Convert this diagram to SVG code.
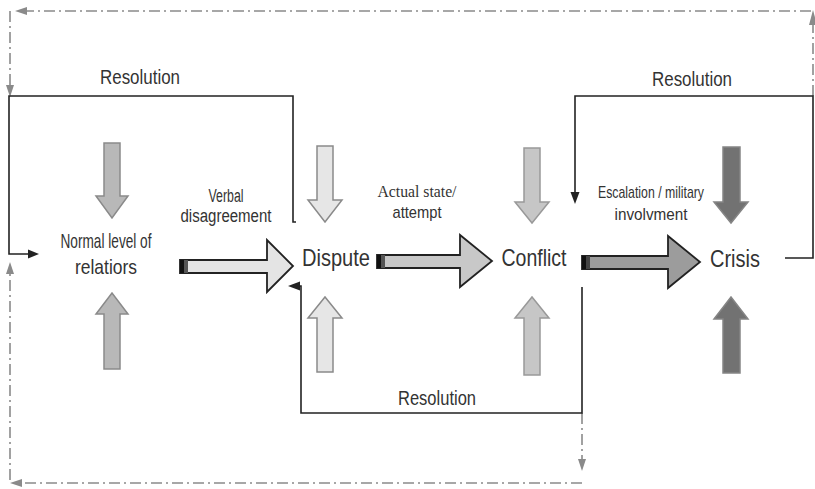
<svg xmlns="http://www.w3.org/2000/svg" width="815" height="489" viewBox="0 0 815 489">
<style>
.t{font-family:"Liberation Sans",Arial,sans-serif;fill:#333}
.ts{font-family:"Liberation Serif","Times New Roman",serif;fill:#333}
.ln{fill:none;stroke:#222;stroke-width:1.6}
.dd{fill:none;stroke:#8a8a8a;stroke-width:1.6;stroke-dasharray:11 4 2 4}
.ah{fill:#222}
.dh{fill:#8a8a8a}
.ha{stroke:#222;stroke-width:1.8;stroke-linejoin:miter}
.v1{fill:#b8b8b8;stroke:#8a8a8a;stroke-width:1.5}
.v2{fill:#e6e6e6;stroke:#8a8a8a;stroke-width:1.5}
.v3{fill:#c6c6c6;stroke:#999;stroke-width:1.5}
.v4{fill:#727272;stroke:#858585;stroke-width:1.5}
</style>
<rect width="815" height="489" fill="#fff"/>

<g id="connectors">
  <!-- dash-dot outer loops -->
  <path class="dd" d="M813,96 V24"/>
  <polygon class="dh" points="813,10 809,25 817,25"/>
  <path class="dd" d="M811,11 H26"/>
  <polygon class="dh" points="15,11 27,7 27,15"/>
  <path class="dd" d="M10,11 V85"/>
  <polygon class="dh" points="10,97 6,85 14,85"/>
  <path class="dd" d="M582,413 V459"/>
  <polygon class="dh" points="582,471 578,459 586,459"/>
  <path class="dd" d="M582,483 H21"/>
  <polygon class="dh" points="10,483 22,479 22,487"/>
  <path class="dd" d="M10,480 V273"/>
  <polygon class="dh" points="10,262 6,274 14,274"/>

  <!-- solid resolution loops -->
  <path class="ln" d="M296,222 H293 V96 H9 V254 H29"/>
  <polygon class="ah" points="39,254 28,249.5 28,258.5"/>
  <path class="ln" d="M785,258 H813 V96 H575 V192"/>
  <polygon class="ah" points="575,204 570.5,192 579.5,192"/>
  <path class="ln" d="M582,287 V413 H301 V286 H299"/>
  <polygon class="ah" points="288,286 300,281.5 300,290.5"/>

  <!-- horizontal block arrows -->
  <path class="ha" fill="#e4e4e4" d="M180,260 H267 V240 L293,266 L267,292 V273 H180 Z"/>
  <rect x="180" y="260" width="4" height="13" fill="#111"/>
  <rect x="184" y="260" width="4" height="13" fill="#555"/>
  <path class="ha" fill="#c8c8c8" d="M377,255 H460 V235 L492,261 L460,287 V268 H377 Z"/>
  <rect x="377" y="255" width="4" height="13" fill="#111"/>
  <rect x="381" y="255" width="4" height="13" fill="#555"/>
  <path class="ha" fill="#9c9c9c" d="M582,256 H668 V236 L700,262 L668,288 V269 H582 Z"/>
  <rect x="582" y="256" width="4" height="13" fill="#111"/>
  <rect x="586" y="256" width="4" height="13" fill="#444"/>

  <!-- labels -->
  <text class="t" x="140" y="84" font-size="20" text-anchor="middle" textLength="80" lengthAdjust="spacingAndGlyphs">Resolution</text>
  <text class="t" x="692" y="86" font-size="20" text-anchor="middle" textLength="80" lengthAdjust="spacingAndGlyphs">Resolution</text>
  <text class="t" x="437" y="405" font-size="20" text-anchor="middle" textLength="78" lengthAdjust="spacingAndGlyphs">Resolution</text>
  <text class="t" x="226" y="202" font-size="18" text-anchor="middle" textLength="35" lengthAdjust="spacingAndGlyphs">Verbal</text>
  <text class="t" x="226" y="222" font-size="18" text-anchor="middle" textLength="91" lengthAdjust="spacingAndGlyphs">disagreement</text>
  <text class="ts" x="417" y="197" font-size="17" text-anchor="middle" textLength="79" lengthAdjust="spacingAndGlyphs">Actual state/</text>
  <text class="t" x="417" y="218" font-size="17" text-anchor="middle" textLength="49" lengthAdjust="spacingAndGlyphs">attempt</text>
  <text class="t" x="651" y="198" font-size="17" text-anchor="middle" textLength="106" lengthAdjust="spacingAndGlyphs">Escalation / military</text>
  <text class="t" x="651" y="220" font-size="17" text-anchor="middle" textLength="73" lengthAdjust="spacingAndGlyphs">involvment</text>
</g>

<g id="node-normal">
  <path class="v1" d="M104,143 H120 V196 H128 L112,218 L96,196 H104 Z"/>
  <path class="v1" d="M104,369 H120 V314 H128 L112,293 L96,314 H104 Z"/>
  <text class="t" x="106" y="248" font-size="21" text-anchor="middle" textLength="91" lengthAdjust="spacingAndGlyphs">Normal level of</text>
  <text class="t" x="106" y="274" font-size="21" text-anchor="middle" textLength="62" lengthAdjust="spacingAndGlyphs">relatiors</text>
</g>

<g id="node-dispute">
  <path class="v2" d="M317,146 H333 V200 H342 L325,222 L308,200 H317 Z"/>
  <path class="v2" d="M317,372 H333 V318 H342 L325,297 L308,318 H317 Z"/>
  <text class="t" x="336" y="266" font-size="24" text-anchor="middle" textLength="68" lengthAdjust="spacingAndGlyphs">Dispute</text>
</g>

<g id="node-conflict">
  <path class="v3" d="M524,148 H540 V202 H549 L532,223 L515,202 H524 Z"/>
  <path class="v3" d="M524,375 H540 V318 H549 L532,297 L515,318 H524 Z"/>
  <text class="t" x="534" y="266" font-size="24" text-anchor="middle" textLength="65" lengthAdjust="spacingAndGlyphs">Conflict</text>
</g>

<g id="node-crisis">
  <path class="v4" d="M723,147 H740 V202 H748 L731,223 L714,202 H723 Z"/>
  <path class="v4" d="M723,373 H740 V319 H748 L731,297 L714,319 H723 Z"/>
  <text class="t" x="735" y="267" font-size="23" text-anchor="middle" textLength="50" lengthAdjust="spacingAndGlyphs">Crisis</text>
</g>
</svg>
